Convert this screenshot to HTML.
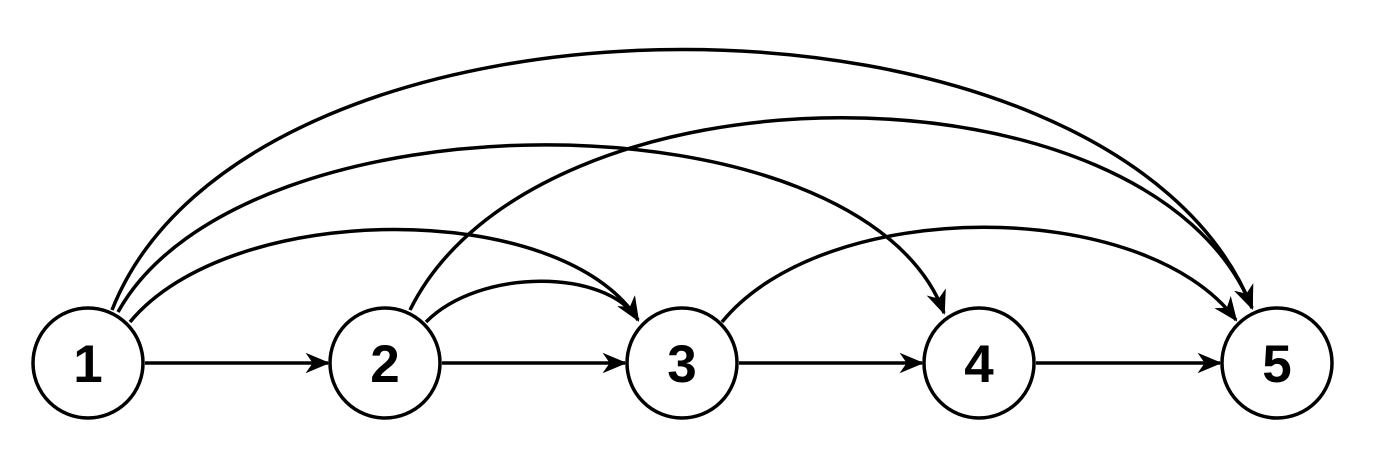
<!DOCTYPE html>
<html><head><meta charset="utf-8"><style>
html,body{margin:0;padding:0;background:#fff;}
svg{display:block;}
</style></head><body>
<svg id="g" width="1374" height="454" viewBox="0 0 1374 454">
<defs>
<marker id="ah" viewBox="0 0 12 10" refX="11" refY="5" markerWidth="7" markerHeight="6" markerUnits="strokeWidth" orient="auto">
<path d="M0,0 L12,5 L0,10 L3.5,5 Z" fill="#000"/>
</marker>
</defs>
</svg>
<script>
const nodeLabels = ["1","2","3","4","5"];
const nodeX = [88, 385, 682, 979, 1277];
const nodeY = 363;
const R = 55;
// edges: [from, to] indices
const straightEdges = [[0,1],[1,2],[2,3],[3,4]];
const arcEdges = [[0,4],[0,3],[0,2],[1,4],[1,2],[2,4]];
// arc endpoints offsets & peak control heights
const arcStartOffsets = [[24,-53],[30,-51],[42,-41],[25,-53],[41,-41],[40,-41]];
const arcEndOffsets = [[-25,-55],[-35,-50],[-44,-43],[-25,-55],[-44,-43],[-41,-43]];
const arcCtrlY = [-37, 89, 199, 54, 268, 196];
const arcCtrlFrac = [[0.12,0.88],[0.15,0.9],[0.2,0.85],[0.15,0.88],[0.25,0.85],[0.2,0.82]];

const svg = document.getElementById('g');
const NS = 'http://www.w3.org/2000/svg';

straightEdges.forEach(([a,b]) => {
  const l = document.createElementNS(NS,'line');
  l.setAttribute('x1', nodeX[a]+R+2); l.setAttribute('y1', nodeY);
  l.setAttribute('x2', nodeX[b]-R-2); l.setAttribute('y2', nodeY);
  l.setAttribute('stroke','#000'); l.setAttribute('stroke-width','3.5');
  l.setAttribute('marker-end','url(#ah)');
  
  
  svg.appendChild(l);
});

arcEdges.forEach(([a,b], i) => {
  const sx = nodeX[a]+arcStartOffsets[i][0], sy = nodeY+arcStartOffsets[i][1];
  const ex = nodeX[b]+arcEndOffsets[i][0], ey = nodeY+arcEndOffsets[i][1];
  const dx = ex - sx;
  const c1x = sx + dx*arcCtrlFrac[i][0], c2x = sx + dx*arcCtrlFrac[i][1];
  const cy = arcCtrlY[i];
  const p = document.createElementNS(NS,'path');
  p.setAttribute('d', `M${sx},${sy} C${c1x},${cy} ${c2x},${cy} ${ex},${ey}`);
  p.setAttribute('fill','none'); p.setAttribute('stroke','#000'); p.setAttribute('stroke-width','3.5');
  p.setAttribute('marker-end','url(#ah)');
  
  
  svg.appendChild(p);
});

nodeLabels.forEach((lab, i) => {
  const c = document.createElementNS(NS,'circle');
  c.setAttribute('cx', nodeX[i]); c.setAttribute('cy', nodeY); c.setAttribute('r', R);
  c.setAttribute('fill','#fff'); c.setAttribute('stroke','#000'); c.setAttribute('stroke-width','3.5');
  
  
  svg.appendChild(c);
  const t = document.createElementNS(NS,'text');
  t.setAttribute('x', nodeX[i]); t.setAttribute('y', nodeY+19);
  t.setAttribute('text-anchor','middle');
  t.setAttribute('font-family','Liberation Sans, sans-serif');
  t.setAttribute('font-size','53'); t.setAttribute('font-weight','bold');
  t.textContent = lab;
  
  
  svg.appendChild(t);
});
</script>
</body></html>
